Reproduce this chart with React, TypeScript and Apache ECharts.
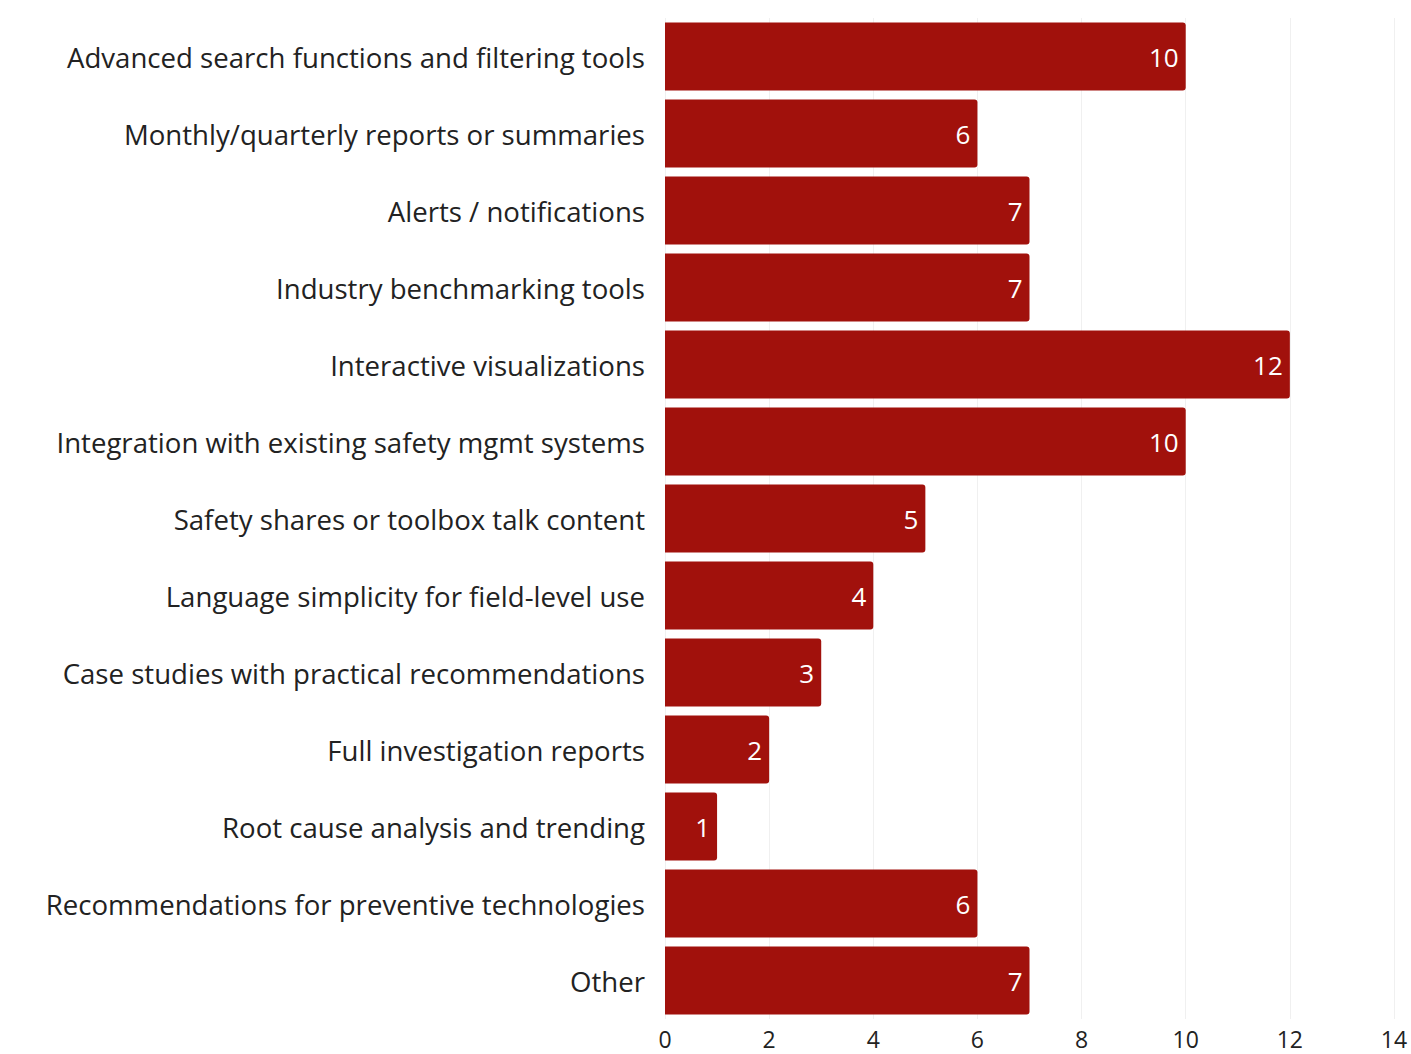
import React, { useEffect, useRef } from "react";
import * as echarts from "echarts";

const categories = [
  "Advanced search functions and filtering tools",
  "Monthly/quarterly reports or summaries",
  "Alerts / notifications",
  "Industry benchmarking tools",
  "Interactive visualizations",
  "Integration with existing safety mgmt systems",
  "Safety shares or toolbox talk content",
  "Language simplicity for field-level use",
  "Case studies with practical recommendations",
  "Full investigation reports",
  "Root cause analysis and trending",
  "Recommendations for preventive technologies",
  "Other",
];
const values = [10, 6, 7, 7, 12, 10, 5, 4, 3, 2, 1, 6, 7];
const xTicks = [0, 2, 4, 6, 8, 10, 12, 14];

export default function App() {
  const ref = useRef<HTMLDivElement>(null);
  useEffect(() => {
    if (!ref.current) return;
    const chart = echarts.init(ref.current, undefined, { renderer: "svg" });
    chart.setOption({
      animation: false,
      backgroundColor: "#ffffff",
      textStyle: { fontFamily: "'Open Sans', sans-serif" },
      grid: { left: 665, right: 17, top: 18, bottom: 35, containLabel: false },
      xAxis: {
        type: "value",
        min: xTicks[0],
        max: xTicks[xTicks.length - 1],
        interval: 2,
        axisLine: { show: false },
        axisTick: { show: false },
        axisLabel: {
          fontSize: 23,
          lineHeight: 20,
          color: "#222",
          margin: 10,
          fontFamily: "'Open Sans'",
        },
        splitLine: { show: true, lineStyle: { color: "#f0f0f0", width: 1 } },
      },
      yAxis: {
        type: "category",
        data: categories,
        inverse: true,
        axisLine: { show: false },
        axisTick: { show: false },
        axisLabel: { fontSize: 27.6, color: "#222", margin: 20, fontFamily: "'Open Sans'" },
        splitLine: { show: false },
      },
      series: [
        {
          type: "bar",
          data: values,
          barWidth: 68,
          itemStyle: { color: "#a1110c", borderRadius: [0, 3, 3, 0] },
          label: {
            show: true,
            position: "insideRight",
            color: "#ffffff",
            fontSize: 26,
            fontFamily: "'Open Sans'",
            distance: 7,
          },
        },
      ],
    });
    return () => chart.dispose();
  }, []);
  return (
    <div
      ref={ref}
      style={{ position: "absolute", left: 0, top: 0, width: 1411, height: 1054 }}
    />
  );
}
